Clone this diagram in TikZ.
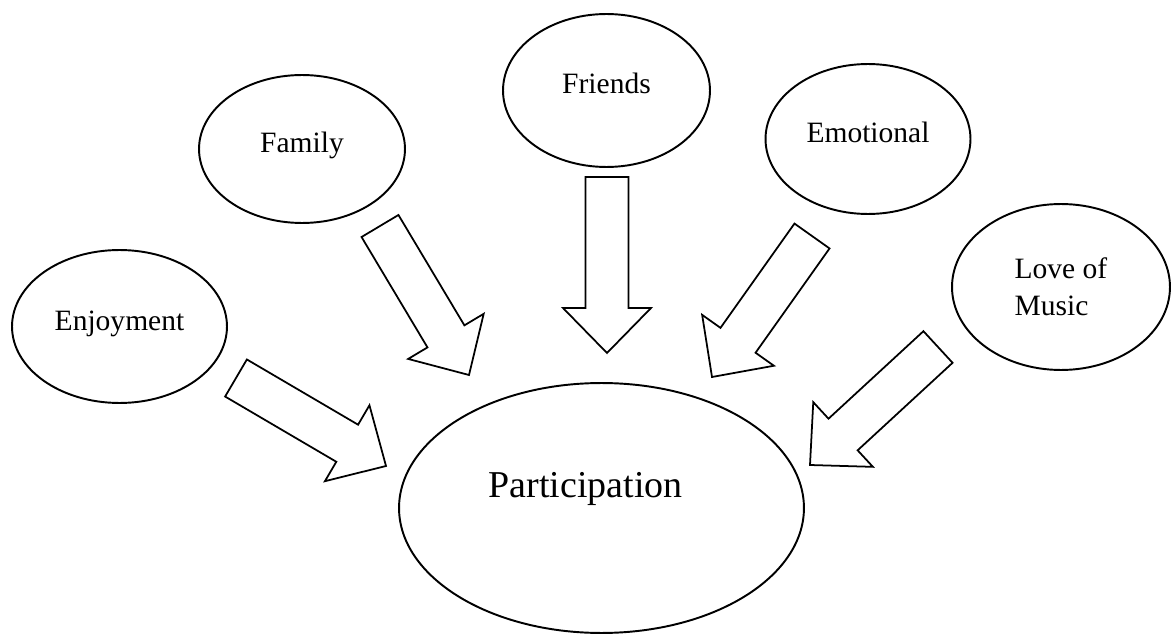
\documentclass[tikz,border=0pt]{standalone}
\usepackage{fontspec}
\setmainfont{Liberation Serif}
\usetikzlibrary{shapes.geometric,calc}

\tikzset{
  bubble/.style={ellipse, draw, line width=1.1pt, inner sep=0pt,
    font=\fontsize{16.8pt}{21pt}\selectfont},
  cue/.style={text height=0.41cm, text depth=0.27cm},
  blockarrow/.style={draw, line width=1pt, line join=miter, fill=white}
}

\begin{document}
\begin{tikzpicture}[x=0.02cm, y=-0.02cm]
  \def\shaft{0.43cm}
  \def\head{0.88cm}
  \def\headlen{0.9cm}

  \useasboundingbox (0,0) rectangle (1171,635);

  % outcome
  \node[bubble, minimum width=8.1cm, minimum height=5cm,
    font=\fontsize{21.6pt}{26pt}\selectfont,
    text height=0.53cm, text depth=0.97cm] (par) at (601.5,508) {\hspace*{-0.64cm}Participation};

  % factors
  \node[bubble, cue, minimum width=4.3cm, minimum height=3.06cm] (enj) at (119.5,326.5) {Enjoyment};
  \node[bubble, cue, minimum width=4.12cm, minimum height=2.96cm] (fam) at (302,149) {Family};
  \node[bubble, cue, minimum width=4.14cm, minimum height=3.06cm] (fri) at (606.5,90.5) {Friends};
  \node[bubble, cue, minimum width=4.1cm, minimum height=3cm] (emo) at (868,139) {Emotional};
  \node[bubble, align=left, minimum width=4.36cm, minimum height=3.32cm] (lov) at (1061,287) {Love of\\Music};

  % tails and tips of the block arrows
  \coordinate (enj-t) at (236,378);  \coordinate (enj-h) at (386,466);
  \coordinate (fam-t) at (380,226);  \coordinate (fam-h) at (469,375);
  \coordinate (fri-t) at (607,177);  \coordinate (fri-h) at (607,353);
  \coordinate (emo-t) at (812,236);  \coordinate (emo-h) at (712,377);
  \coordinate (lov-t) at (938,347);  \coordinate (lov-h) at (810,465);

  \foreach \a in {enj,fam,fri,emo,lov} {
    \coordinate (\a-b) at ($(\a-h)!\headlen!(\a-t)$);
    \draw[blockarrow] ($(\a-t)!\shaft!90:(\a-h)$) -- ($(\a-b)!\shaft!-90:(\a-t)$)
      -- ($(\a-b)!\head!-90:(\a-t)$) -- (\a-h) -- ($(\a-b)!\head!90:(\a-t)$)
      -- ($(\a-b)!\shaft!90:(\a-t)$) -- ($(\a-t)!\shaft!-90:(\a-h)$) -- cycle;
  }
\end{tikzpicture}
\end{document}
